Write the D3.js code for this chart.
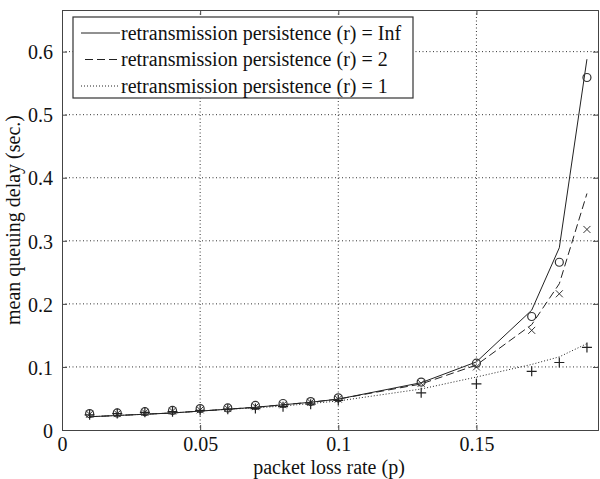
<!DOCTYPE html>
<html>
<head>
<meta charset="utf-8">
<script src="https://cdn.jsdelivr.net/npm/d3@7"></script>
<style>
  body { margin: 0; background: #fff; }
  svg text { font-family: "Liberation Serif", "Times New Roman", serif; fill: #111; }
</style>
</head>
<body>
<div id="chart"></div>
<script>
// loss rates where the curves / simulation points are given
var lossRate = [0.01, 0.02, 0.03, 0.04, 0.05, 0.06, 0.07, 0.08, 0.09, 0.10, 0.13, 0.15, 0.17, 0.18, 0.19];

// model curves
var lineInf = [0.021, 0.023, 0.025, 0.027, 0.030, 0.033, 0.036, 0.040, 0.044, 0.049, 0.075, 0.108, 0.190, 0.289, 0.588];
var lineR2  = [0.021, 0.023, 0.025, 0.027, 0.030, 0.033, 0.036, 0.040, 0.044, 0.049, 0.073, 0.103, 0.167, 0.232, 0.375];
var lineR1  = [0.021, 0.023, 0.025, 0.027, 0.030, 0.033, 0.035, 0.038, 0.042, 0.046, 0.065, 0.084, 0.104, 0.116, 0.137];

// simulation markers
var simInf = [0.026, 0.027, 0.029, 0.031, 0.034, 0.035, 0.039, 0.042, 0.045, 0.051, 0.076, 0.106, 0.180, 0.266, 0.559];
var simR2  = [0.025, 0.026, 0.028, 0.030, 0.032, 0.034, 0.037, 0.040, 0.044, 0.049, 0.074, 0.100, 0.158, 0.216, 0.318];
var simR1  = [0.024, 0.026, 0.028, 0.029, 0.031, 0.033, 0.034, 0.037, 0.041, 0.047, 0.059, 0.073, 0.093, 0.107, 0.131];

var xTicks = [0, 0.05, 0.1, 0.15];
var yTicks = [0, 0.1, 0.2, 0.3, 0.4, 0.5, 0.6];
var legendLabels = ["retransmission persistence (r) = Inf",
                    "retransmission persistence (r) = 2",
                    "retransmission persistence (r) = 1"];

var margin = {top: 10, right: 2, bottom: 49, left: 62},
    width = 600 - margin.left - margin.right,
    height = 479 - margin.top - margin.bottom;

var x = d3.scaleLinear().domain([0, 0.194]).range([0, width]);
var y = d3.scaleLinear().domain([0, 0.666]).range([height, 0]);

var svg = d3.select("#chart").append("svg")
    .attr("width", 600)
    .attr("height", 479)
  .append("g")
    .attr("transform", "translate(" + margin.left + "," + margin.top + ")");

// dotted grid
svg.append("g").selectAll("line").data(xTicks.slice(1)).enter().append("line")
    .attr("x1", function(d) { return x(d); }).attr("x2", function(d) { return x(d); })
    .attr("y1", 0).attr("y2", height)
    .attr("stroke", "#333").attr("stroke-width", 1).attr("stroke-dasharray", "1,2.5");
svg.append("g").selectAll("line").data(yTicks.slice(1)).enter().append("line")
    .attr("y1", function(d) { return y(d); }).attr("y2", function(d) { return y(d); })
    .attr("x1", 0).attr("x2", width)
    .attr("stroke", "#333").attr("stroke-width", 1).attr("stroke-dasharray", "1,2.5");

// axes, ticks inward like matlab
var xAxis = svg.append("g")
    .attr("transform", "translate(0," + height + ")")
    .call(d3.axisBottom(x).tickValues(xTicks).tickSize(-5).tickPadding(7)
      .tickFormat(function(d) { return d3.format("")(+d.toFixed(2)); }));
var yAxis = svg.append("g")
    .call(d3.axisLeft(y).tickValues(yTicks).tickSize(-5).tickPadding(9)
      .tickFormat(function(d) { return d3.format("")(+d.toFixed(1)); }));
svg.append("g")
    .call(d3.axisTop(x).tickValues(xTicks).tickSize(-5).tickFormat(""));
svg.append("g")
    .attr("transform", "translate(" + width + ",0)")
    .call(d3.axisRight(y).tickValues(yTicks).tickSize(-5).tickFormat(""));

svg.selectAll(".domain").attr("stroke", "#444");
svg.selectAll(".tick line").attr("stroke", "#444");
svg.selectAll(".tick text").attr("font-size", 20).attr("fill", "#111");
xAxis.selectAll(".tick text").attr("dy", "0.71em");
yAxis.selectAll(".tick text").attr("dy", "0.36em");

// curves
var series = [
  {vals: lineInf, dash: null},
  {vals: lineR2, dash: "8,4"},
  {vals: lineR1, dash: "1,2"}
];
var valueline = d3.line()
    .x(function(d) { return x(d[0]); })
    .y(function(d) { return y(d[1]); });

series.forEach(function(s) {
  svg.append("path")
      .datum(d3.zip(lossRate, s.vals))
      .attr("fill", "none")
      .attr("stroke", "#222")
      .attr("stroke-width", 1)
      .attr("stroke-dasharray", s.dash)
      .attr("d", valueline);
});

// markers
svg.append("g").selectAll("circle").data(d3.zip(lossRate, simInf)).enter().append("circle")
    .attr("cx", function(d) { return x(d[0]); })
    .attr("cy", function(d) { return y(d[1]); })
    .attr("r", 4)
    .attr("fill", "none").attr("stroke", "#333").attr("stroke-width", 1.2);

svg.append("g").selectAll("path").data(d3.zip(lossRate, simR2)).enter().append("path")
    .attr("transform", function(d) { return "translate(" + x(d[0]) + "," + y(d[1]) + ")"; })
    .attr("d", "M-3.5,-3.5L3.5,3.5M-3.5,3.5L3.5,-3.5")
    .attr("fill", "none").attr("stroke", "#333").attr("stroke-width", 1);

svg.append("g").selectAll("path").data(d3.zip(lossRate, simR1)).enter().append("path")
    .attr("transform", function(d) { return "translate(" + x(d[0]) + "," + y(d[1]) + ")"; })
    .attr("d", "M-5,0L5,0M0,-5L0,5")
    .attr("fill", "none").attr("stroke", "#222").attr("stroke-width", 1.2);

// legend
var legend = svg.append("g").attr("transform", "translate(11,7)");
legend.append("rect")
    .attr("width", 340).attr("height", 81)
    .attr("fill", "#fff").attr("stroke", "#333").attr("stroke-width", 1.2);
legendLabels.forEach(function(t, i) {
  var ly = 16 + i * 26.5;
  legend.append("line")
      .attr("x1", i == 1 ? 12 : 8).attr("x2", 47).attr("y1", ly).attr("y2", ly)
      .attr("stroke", "#222").attr("stroke-width", 1)
      .attr("stroke-dasharray", series[i].dash);
  legend.append("text")
      .attr("x", 48).attr("y", ly).attr("dy", "0.33em")
      .attr("font-size", 20)
      .text(t);
});

// axis labels
svg.append("text")
    .attr("x", width / 2 - 1).attr("y", height + 44)
    .attr("text-anchor", "middle").attr("font-size", 20)
    .text("packet loss rate (p)");
svg.append("text")
    .attr("transform", "rotate(-90)")
    .attr("x", -height / 2).attr("y", -42)
    .attr("text-anchor", "middle").attr("font-size", 20)
    .text("mean queuing delay (sec.)");
</script>
</body>
</html>
